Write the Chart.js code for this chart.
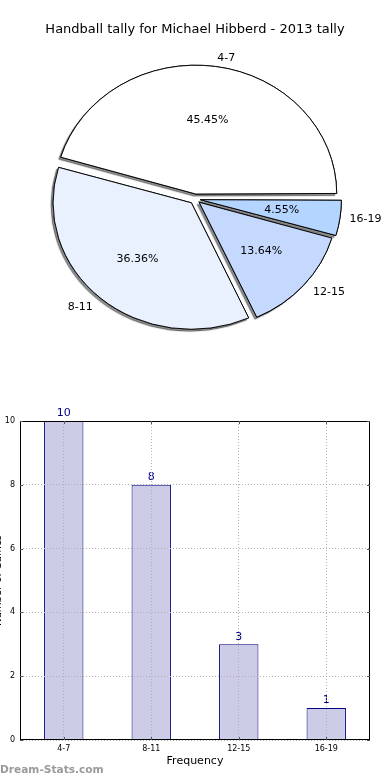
<!DOCTYPE html>
<html>
<head>
<meta charset="utf-8">
<script src="https://cdn.jsdelivr.net/npm/chart.js@4.4.1/dist/chart.umd.min.js"></script>
<style>
  body { margin: 0; background: #fff; width: 390px; height: 780px; overflow: hidden; position: relative; font-family: "DejaVu Sans", sans-serif; }
  #title { position: absolute; top: 21px; left: 0; width: 390px; text-align: center; font-size: 13px; color: #000; }
  #pieBox { position: absolute; left: 0; top: 0; width: 390px; height: 395px; }
  #barBox { position: absolute; left: 0; top: 395px; width: 390px; height: 385px; overflow: hidden; }
  #barBox canvas { margin-left: -10px; }
  #mark { position: absolute; left: 0; top: 763px; font-size: 10.6px; font-weight: bold; color: #9a9a9a; }
</style>
</head>
<body>
<div id="pieBox"><canvas id="pie" width="390" height="395"></canvas></div>
<div id="title">Handball tally for Michael Hibberd - 2013 tally</div>
<div id="barBox"><canvas id="bar" width="400" height="385"></canvas></div>
<div id="mark">Dream-Stats.com</div>
<script>
var categories = ['4-7', '8-11', '12-15', '16-19'];
var games = [10, 8, 3, 1];
var sliceColors = ['#ffffff', '#eaf1fe', '#c5d9fe', '#b3d5ff'];
var yTicks = [0, 2, 4, 6, 8, 10];

var F = '"DejaVu Sans", sans-serif';
var SQUASH = 0.914;
var EXPLODE = 22;   // chart.js moves the slice by offset/4

var total = games.reduce(function(a, b) { return a + b; }, 0);

// pie draws clockwise, reference goes anticlockwise from 3 o'clock -> reverse
var pieLabels = categories.slice().reverse();
var pieValues = games.slice().reverse();
var pieColors = sliceColors.slice().reverse();

var ellipsePie = {
  id: 'ellipsePie',
  beforeDatasetsDraw: function(chart) {
    var ctx = chart.ctx;
    var arcs = chart.getDatasetMeta(0).data;
    var cx = arcs[0].x, cy = arcs[0].y;
    ctx.save();
    ctx.translate(cx, cy);
    ctx.scale(1, SQUASH);
    ctx.translate(-cx, -cy);
    // shadow pass first so no shadow lands on a slice
    ctx.save();
    ctx.shadowColor = 'rgba(0,0,0,0.45)';
    ctx.shadowOffsetX = -2;
    ctx.shadowOffsetY = 2;
    ctx.shadowBlur = 1;
    arcs.forEach(function(a) { a.draw(ctx); });
    ctx.restore();
  },
  afterDatasetsDraw: function(chart) {
    var ctx = chart.ctx;
    ctx.restore();
    var arcs = chart.getDatasetMeta(0).data;
    ctx.save();
    ctx.font = '11px ' + F;
    ctx.fillStyle = '#000';
    ctx.textBaseline = 'middle';
    arcs.forEach(function(a, i) {
      var mid = (a.startAngle + a.endAngle) / 2;
      var R = a.outerRadius;
      var shift = EXPLODE / 4;
      var c = Math.cos(mid), s = Math.sin(mid);
      var pct = (pieValues[i] / total * 100).toFixed(2) + '%';
      var r1 = 0.6 * R + shift;
      ctx.textAlign = 'center';
      ctx.fillText(pct, a.x + c * r1, a.y + s * r1 * SQUASH);
      var r2 = 1.1 * R + shift;
      ctx.textAlign = c >= 0 ? 'left' : 'right';
      ctx.fillText(pieLabels[i], a.x + c * r2, a.y + s * r2 * SQUASH);
    });
    ctx.restore();
  }
};

new Chart(document.getElementById('pie'), {
  type: 'pie',
  data: {
    labels: pieLabels,
    datasets: [{
      data: pieValues,
      backgroundColor: pieColors,
      borderColor: '#000',
      borderWidth: 1,
      offset: EXPLODE,
      hoverOffset: EXPLODE,
      radius: 137
    }]
  },
  options: {
    responsive: false,
    animation: false,
    rotation: 90,
    layout: { padding: { left: 1, right: 1, top: 3, bottom: 0 } },
    plugins: { legend: { display: false }, tooltip: { enabled: false } },
    events: []
  },
  plugins: [ellipsePie]
});

var frame = {
  id: 'frame',
  afterDraw: function(chart) {
    var ctx = chart.ctx, a = chart.chartArea;
    ctx.save();
    ctx.strokeStyle = '#000';
    ctx.lineWidth = 1;
    ctx.strokeRect(Math.round(a.left) + 0.5, Math.round(a.top) + 0.5, Math.round(a.right - a.left) - 1, Math.round(a.bottom - a.top) - 1);
    ctx.strokeStyle = '#555';
    var xs = chart.scales.x, ys = chart.scales.y;
    ctx.beginPath();
    xs.ticks.forEach(function(t, i) {
      var x = Math.round(xs.getPixelForTick(i)) + 0.5;
      ctx.moveTo(x, a.top); ctx.lineTo(x, a.top + 3);
      ctx.moveTo(x, a.bottom); ctx.lineTo(x, a.bottom - 3);
    });
    ys.ticks.forEach(function(t, i) {
      var y = Math.round(ys.getPixelForTick(i)) + 0.5;
      ctx.moveTo(a.left, y); ctx.lineTo(a.left + 3, y);
      ctx.moveTo(a.right, y); ctx.lineTo(a.right - 3, y);
    });
    ctx.stroke();
    ctx.restore();
  }
};

var valueLabels = {
  id: 'valueLabels',
  afterDatasetsDraw: function(chart) {
    var ctx = chart.ctx;
    ctx.save();
    ctx.font = '11px ' + F;
    ctx.fillStyle = '#000080';
    ctx.textAlign = 'center';
    ctx.textBaseline = 'bottom';
    chart.getDatasetMeta(0).data.forEach(function(b, i) {
      ctx.fillText(String(games[i]), b.x, b.y - 2);
    });
    ctx.restore();
  }
};

new Chart(document.getElementById('bar'), {
  type: 'bar',
  data: {
    labels: categories,
    datasets: [{
      data: games,
      backgroundColor: '#ccccE6',
      borderColor: '#000080',
      borderWidth: 1,
      barPercentage: 0.45,
      categoryPercentage: 1
    }]
  },
  options: {
    responsive: false,
    animation: false,
    events: [],
    layout: { padding: { left: 0, right: 20, top: 26, bottom: 0 } },
    plugins: { legend: { display: false }, tooltip: { enabled: false } },
    scales: {
      x: {
        grid: { offset: false, color: '#b0b0b0', z: 1, drawTicks: false, tickLength: 0 },
        border: { display: false, dash: [1, 2] },
        ticks: { font: { size: 8, family: F }, color: '#000', padding: 4 },
        title: { display: true, text: 'Frequency', font: { size: 11, family: F }, color: '#000', padding: { top: 0, bottom: 12 } },
        afterFit: function(s) { s.height = 40; }
      },
      y: {
        min: 0,
        max: 10,
        afterBuildTicks: function(s) { s.ticks = yTicks.map(function(v) { return { value: v }; }); },
        grid: { color: '#b0b0b0', z: 1, drawTicks: false, tickLength: 0 },
        border: { display: false, dash: [1, 2] },
        ticks: { font: { size: 8, family: F }, color: '#000', padding: 5 },
        title: { display: true, text: 'Number of Games', font: { size: 10, family: F }, color: '#000', padding: { top: 2, bottom: 0 } },
        afterFit: function(s) { s.width = 30; }
      }
    }
  },
  plugins: [frame, valueLabels]
});
</script>
</body>
</html>
